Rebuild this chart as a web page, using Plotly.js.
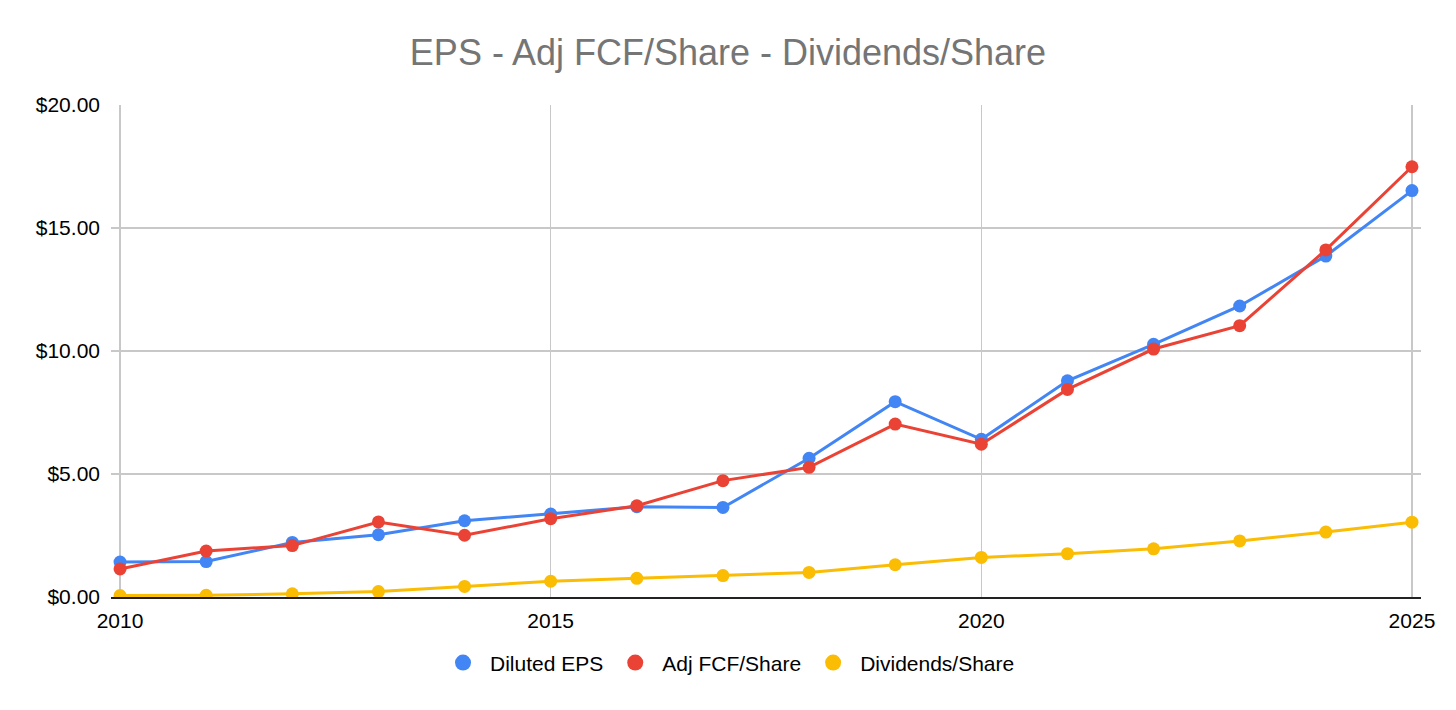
<!DOCTYPE html>
<html>
<head>
<meta charset="utf-8">
<script src="https://cdn.plot.ly/plotly-3.0.1.min.js"></script>
<style>
  html, body { margin: 0; padding: 0; background: #fff; }
  #myDiv { width: 1456px; height: 710px; }
</style>
</head>
<body>
<div id="myDiv"></div>
<script>
// years on the x axis
var years = [2010, 2011, 2012, 2013, 2014, 2015, 2016, 2017,
             2018, 2019, 2020, 2021, 2022, 2023, 2024, 2025];

// values, dollars per share
var dilutedEps = [1.42, 1.44, 2.22, 2.53, 3.10, 3.37, 3.67, 3.64,
                  5.64, 7.94, 6.41, 8.79, 10.27, 11.83, 13.86, 16.52];
var adjFcfShare = [1.14, 1.87, 2.09, 3.05, 2.51, 3.18, 3.71, 4.73,
                   5.27, 7.03, 6.21, 8.44, 10.08, 11.03, 14.11, 17.49];
var dividendsShare = [0.06, 0.07, 0.13, 0.22, 0.43, 0.64, 0.76, 0.87,
                      1.00, 1.31, 1.61, 1.76, 1.96, 2.28, 2.64, 3.04];

var names = ['Diluted EPS', 'Adj FCF/Share', 'Dividends/Share'];
var colors = ['#4285F4', '#EA4335', '#FBBC04'];
var series = [dilutedEps, adjFcfShare, dividendsShare];

var data = [];
// the lines with their points
for (var i = 0; i < series.length; i++) {
  data.push({
    x: years,
    y: series[i],
    mode: 'lines+markers',
    name: names[i],
    line: {color: colors[i], width: 3},
    marker: {color: colors[i], size: 13},
    showlegend: false,
    type: 'scatter'
  });
}
// legend shows only a dot, like the sheets chart
for (var j = 0; j < series.length; j++) {
  data.push({
    x: [null],
    y: [null],
    mode: 'markers',
    name: names[j],
    marker: {color: colors[j], size: 20},
    type: 'scatter'
  });
}

var layout = {
  width: 1456,
  height: 710,
  margin: {l: 111, r: 35, t: 105, b: 113},
  paper_bgcolor: '#fff',
  plot_bgcolor: '#fff',
  font: {family: 'Liberation Sans, Arial, sans-serif', size: 21, color: '#000'},
  title: {
    text: 'EPS - Adj FCF/Share - Dividends/Share',
    font: {size: 36, color: '#757575'},
    x: 0.5,
    xanchor: 'center',
    y: 1 - 52 / 710,
    yanchor: 'middle'
  },
  xaxis: {
    range: [2009.895, 2025.105],
    tick0: 2010,
    dtick: 5,
    showgrid: true,
    gridcolor: '#c8c8c8',
    gridwidth: 1.3,
    zeroline: false,
    showline: true,
    linecolor: '#222',
    linewidth: 2,
    ticks: '',
    ticklabelstandoff: 4,
    tickfont: {size: 21, color: '#000'}
  },
  yaxis: {
    range: [0, 20],
    dtick: 5,
    tickprefix: '$',
    tickformat: '.2f',
    showgrid: true,
    gridcolor: '#c8c8c8',
    gridwidth: 1.3,
    zeroline: false,
    showline: false,
    ticks: '',
    ticklabelstandoff: 10,
    tickfont: {size: 21, color: '#000'}
  },
  legend: {
    orientation: 'h',
    x: 0.471,
    xanchor: 'center',
    y: -0.134,
    yanchor: 'middle',
    itemwidth: 44,
    font: {size: 21, color: '#000'},
    itemclick: false,
    itemdoubleclick: false
  },
  showlegend: true
};

Plotly.newPlot('myDiv', data, layout, {displayModeBar: false, staticPlot: true});
</script>
</body>
</html>
